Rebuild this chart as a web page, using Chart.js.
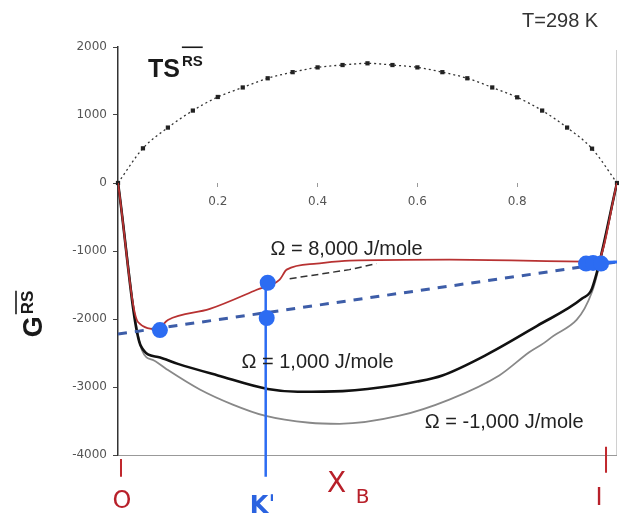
<!DOCTYPE html>
<html>
<head>
<meta charset="utf-8">
<script src="https://cdn.jsdelivr.net/npm/chart.js@4.4.0/dist/chart.umd.min.js"></script>
<style>
html,body{margin:0;padding:0;background:#fff;}
#c{display:block;}
</style>
</head>
<body>
<canvas id="c" width="619" height="519"></canvas>
<script>
// ---- data ----
const xTickVals = [0.2, 0.4, 0.6, 0.8];
const yTickVals = [-4000, -3000, -2000, -1000, 0, 1000, 2000];

const tsX = [0,0.05,0.1,0.15,0.2,0.25,0.3,0.35,0.4,0.45,0.5,0.55,0.6,0.65,0.7,0.75,0.8,0.85,0.9,0.95,1];
const tsY = [0,510,815,1065,1265,1405,1540,1630,1700,1735,1760,1735,1700,1630,1540,1405,1260,1065,815,505,0];

const g8000X = [0,0.04,0.078,0.1,0.184,0.278,0.324,0.338,0.398,0.464,0.664,0.96,1];
const g8000Y = [0,-2044,-2148,-2015,-1852,-1570,-1422,-1274,-1185,-1141,-1126,-1155,0];

const g8000bX = [0.344,0.398,0.464,0.518];
const g8000bY = [-1407,-1348,-1274,-1185];

const g1000X = [0,0.046,0.08,0.12,0.2,0.3,0.36,0.45,0.5,0.6,0.65,0.74,0.84,0.93,0.95,1];
const g1000Y = [0,-2400,-2560,-2660,-2830,-3030,-3070,-3060,-3030,-2920,-2830,-2520,-2100,-1700,-1550,0];

const gm1000X = [0,0.048,0.072,0.098,0.164,0.23,0.294,0.384,0.444,0.564,0.664,0.764,0.824,0.864,0.95,1];
const gm1000Y = [0,-2459,-2610,-2741,-3037,-3259,-3422,-3526,-3541,-3422,-3185,-2830,-2489,-2296,-1600,0];

const tangentX = [0, 1];
const tangentY = [-2222, -1160];

const tangentEndX = [0.935, 1];
const tangentEndY = [-1175, -1160];

const dotX = [0.084, 0.3, 0.298, 0.938, 0.952, 0.968];
const dotY = [-2163, -1467, -1985, -1185, -1175, -1185];

const kX = [0.296, 0.296];
const kY = [-1467, -4320];

const redTickX = [0.006, 0.006, null, 0.978, 0.978];
const redTickY = [-4060, -4320, null, -3880, -4260];

const pts = (xs, ys) => xs.map((x, i) => (x === null ? {x: null, y: null} : {x: x, y: ys[i]}));

const annot = {
  id: 'annot',
  beforeDatasetsDraw(chart) {
    const ctx = chart.ctx, a = chart.chartArea;
    ctx.save();
    ctx.strokeStyle = '#d0d0d0';
    ctx.lineWidth = 1;
    ctx.beginPath();
    ctx.moveTo(a.right - 0.5, a.top + 3);
    ctx.lineTo(a.right - 0.5, a.bottom);
    ctx.stroke();
    ctx.restore();
  },
  afterDatasetsDraw(chart) {
    const ctx = chart.ctx, xs = chart.scales.x, ys = chart.scales.y;
    const X = v => xs.getPixelForValue(v), Y = v => ys.getPixelForValue(v);
    ctx.save();
    ctx.textBaseline = 'middle';
    ctx.textAlign = 'center';
    ctx.fillStyle = '#222';
    ctx.font = '20px "Liberation Sans", Arial, sans-serif';
    ctx.fillText('Ω = 8,000 J/mole', X(0.458), Y(-985));
    ctx.fillText('Ω = 1,000 J/mole', X(0.40), Y(-2637));
    ctx.fillText('Ω = -1,000 J/mole', X(0.774), Y(-3526));
    ctx.fillStyle = '#333';
    ctx.font = '20px "Liberation Sans", Arial, sans-serif';
    ctx.fillText('T=298 K', X(0.886), Y(2370));

    // TS^RS title
    ctx.textAlign = 'left';
    ctx.textBaseline = 'alphabetic';
    ctx.fillStyle = '#1a1a1a';
    ctx.font = 'bold 25px "Liberation Sans", Arial, sans-serif';
    const tx = X(0.06), tb = Y(1555);
    ctx.fillText('TS', tx, tb);
    const tw = ctx.measureText('TS').width;
    ctx.font = 'bold 15px "Liberation Sans", Arial, sans-serif';
    ctx.fillText('RS', tx + tw + 2, tb - 11);
    const rw = ctx.measureText('RS').width;
    ctx.strokeStyle = '#1a1a1a';
    ctx.lineWidth = 1.6;
    ctx.beginPath();
    ctx.moveTo(tx + tw + 2, tb - 30);
    ctx.lineTo(tx + tw + 2 + rw, tb - 30);
    ctx.stroke();

    // G^RS axis title
    ctx.save();
    ctx.translate(ys.left + 42, Y(-2270));
    ctx.rotate(-Math.PI / 2);
    ctx.font = 'bold 27px "Liberation Sans", Arial, sans-serif';
    ctx.fillText('G', 0, 0);
    const gw = ctx.measureText('G').width;
    ctx.font = 'bold 17px "Liberation Sans", Arial, sans-serif';
    ctx.fillText('RS', gw + 2, -9);
    const rw2 = ctx.measureText('RS').width;
    ctx.beginPath();
    ctx.moveTo(gw + 2, -26);
    ctx.lineTo(gw + 2 + rw2, -26);
    ctx.stroke();
    ctx.restore();

    // hand-written marks under the axis
    ctx.textAlign = 'center';
    ctx.textBaseline = 'middle';
    ctx.fillStyle = '#b8202a';
    ctx.font = '24px "DejaVu Sans", sans-serif';
    ctx.fillText('O', X(0.008), Y(-4681));
    ctx.font = '28px "DejaVu Sans", sans-serif';
    ctx.fillText('X', X(0.438), Y(-4440));
    ctx.font = '20px "DejaVu Sans", sans-serif';
    ctx.fillText('B', X(0.49), Y(-4630));
    ctx.font = '24px "DejaVu Sans", sans-serif';
    ctx.fillText('I', X(0.964), Y(-4640));
    ctx.fillStyle = '#2b63e0';
    ctx.font = 'bold 24px "DejaVu Sans", sans-serif';
    ctx.fillText('K\u02C8', X(0.29), Y(-4760));
    ctx.restore();
  }
};

new Chart(document.getElementById('c'), {
  type: 'scatter',
  data: {
    datasets: [
      {data: pts(dotX, dotY), showLine: false, pointRadius: 8, pointBackgroundColor: '#2c6cf2', pointBorderWidth: 0, clip: false},
      {data: pts(kX, kY), showLine: true, borderColor: '#2c6cf2', borderWidth: 2.5, pointRadius: 0, clip: false},
      {data: pts(tangentEndX, tangentEndY), showLine: true, borderColor: '#2c6cf2', borderWidth: 3, pointRadius: 0},
      {data: pts(tangentX, tangentY), showLine: true, borderColor: '#3d5da8', borderWidth: 3, borderDash: [9, 8], pointRadius: 0},
      {data: pts(g8000bX, g8000bY), showLine: true, borderColor: '#333', borderWidth: 1.5, borderDash: [7, 4], pointRadius: 0},
      {data: pts(g8000X, g8000Y), showLine: true, borderColor: '#b83232', borderWidth: 1.8, pointRadius: 0, cubicInterpolationMode: 'monotone'},
      {data: pts(tsX, tsY), showLine: true, borderColor: '#333', borderWidth: 1.3, borderDash: [2, 3], pointStyle: 'rect', pointRadius: 3, pointBackgroundColor: '#222', pointBorderWidth: 0, cubicInterpolationMode: 'monotone', clip: false},
      {data: pts(g1000X, g1000Y), showLine: true, borderColor: '#111', borderWidth: 2.6, pointRadius: 0, cubicInterpolationMode: 'monotone'},
      {data: pts(gm1000X, gm1000Y), showLine: true, borderColor: '#888', borderWidth: 1.8, pointRadius: 0, cubicInterpolationMode: 'monotone'},
      {data: pts(redTickX, redTickY), showLine: true, spanGaps: false, borderColor: '#c0282d', borderWidth: 2, pointRadius: 0, clip: false}
    ]
  },
  options: {
    responsive: false,
    animation: false,
    devicePixelRatio: 1,
    layout: {autoPadding: false, padding: {left: 0, top: 47, right: 2, bottom: 64}},
    plugins: {legend: {display: false}, tooltip: {enabled: false}},
    scales: {
      x: {
        type: 'linear', min: 0, max: 1,
        position: {y: 0},
        border: {display: false},
        grid: {drawOnChartArea: false, drawTicks: true, tickLength: 4, color: '#999'},
        afterBuildTicks: s => { s.ticks = xTickVals.map(v => ({value: v})); },
        ticks: {font: {family: 'DejaVu Sans', size: 12}, color: '#555', padding: 8, callback: v => v.toFixed(1)}
      },
      y: {
        type: 'linear', min: -4000, max: 2000,
        afterFit: s => { s.width = 118; },
        afterBuildTicks: s => { s.ticks = yTickVals.map(v => ({value: v})); },
        border: {display: true, color: '#333', width: 1.5},
        grid: {
          color: c => (c.tick && c.tick.value === -4000 ? '#999' : 'rgba(0,0,0,0)'),
          tickColor: '#444', tickLength: 5, drawTicks: true
        },
        ticks: {font: {family: 'DejaVu Sans', size: 12}, color: '#555', padding: 6, callback: v => String(v)}
      }
    }
  },
  plugins: [annot]
});
</script>
</body>
</html>
